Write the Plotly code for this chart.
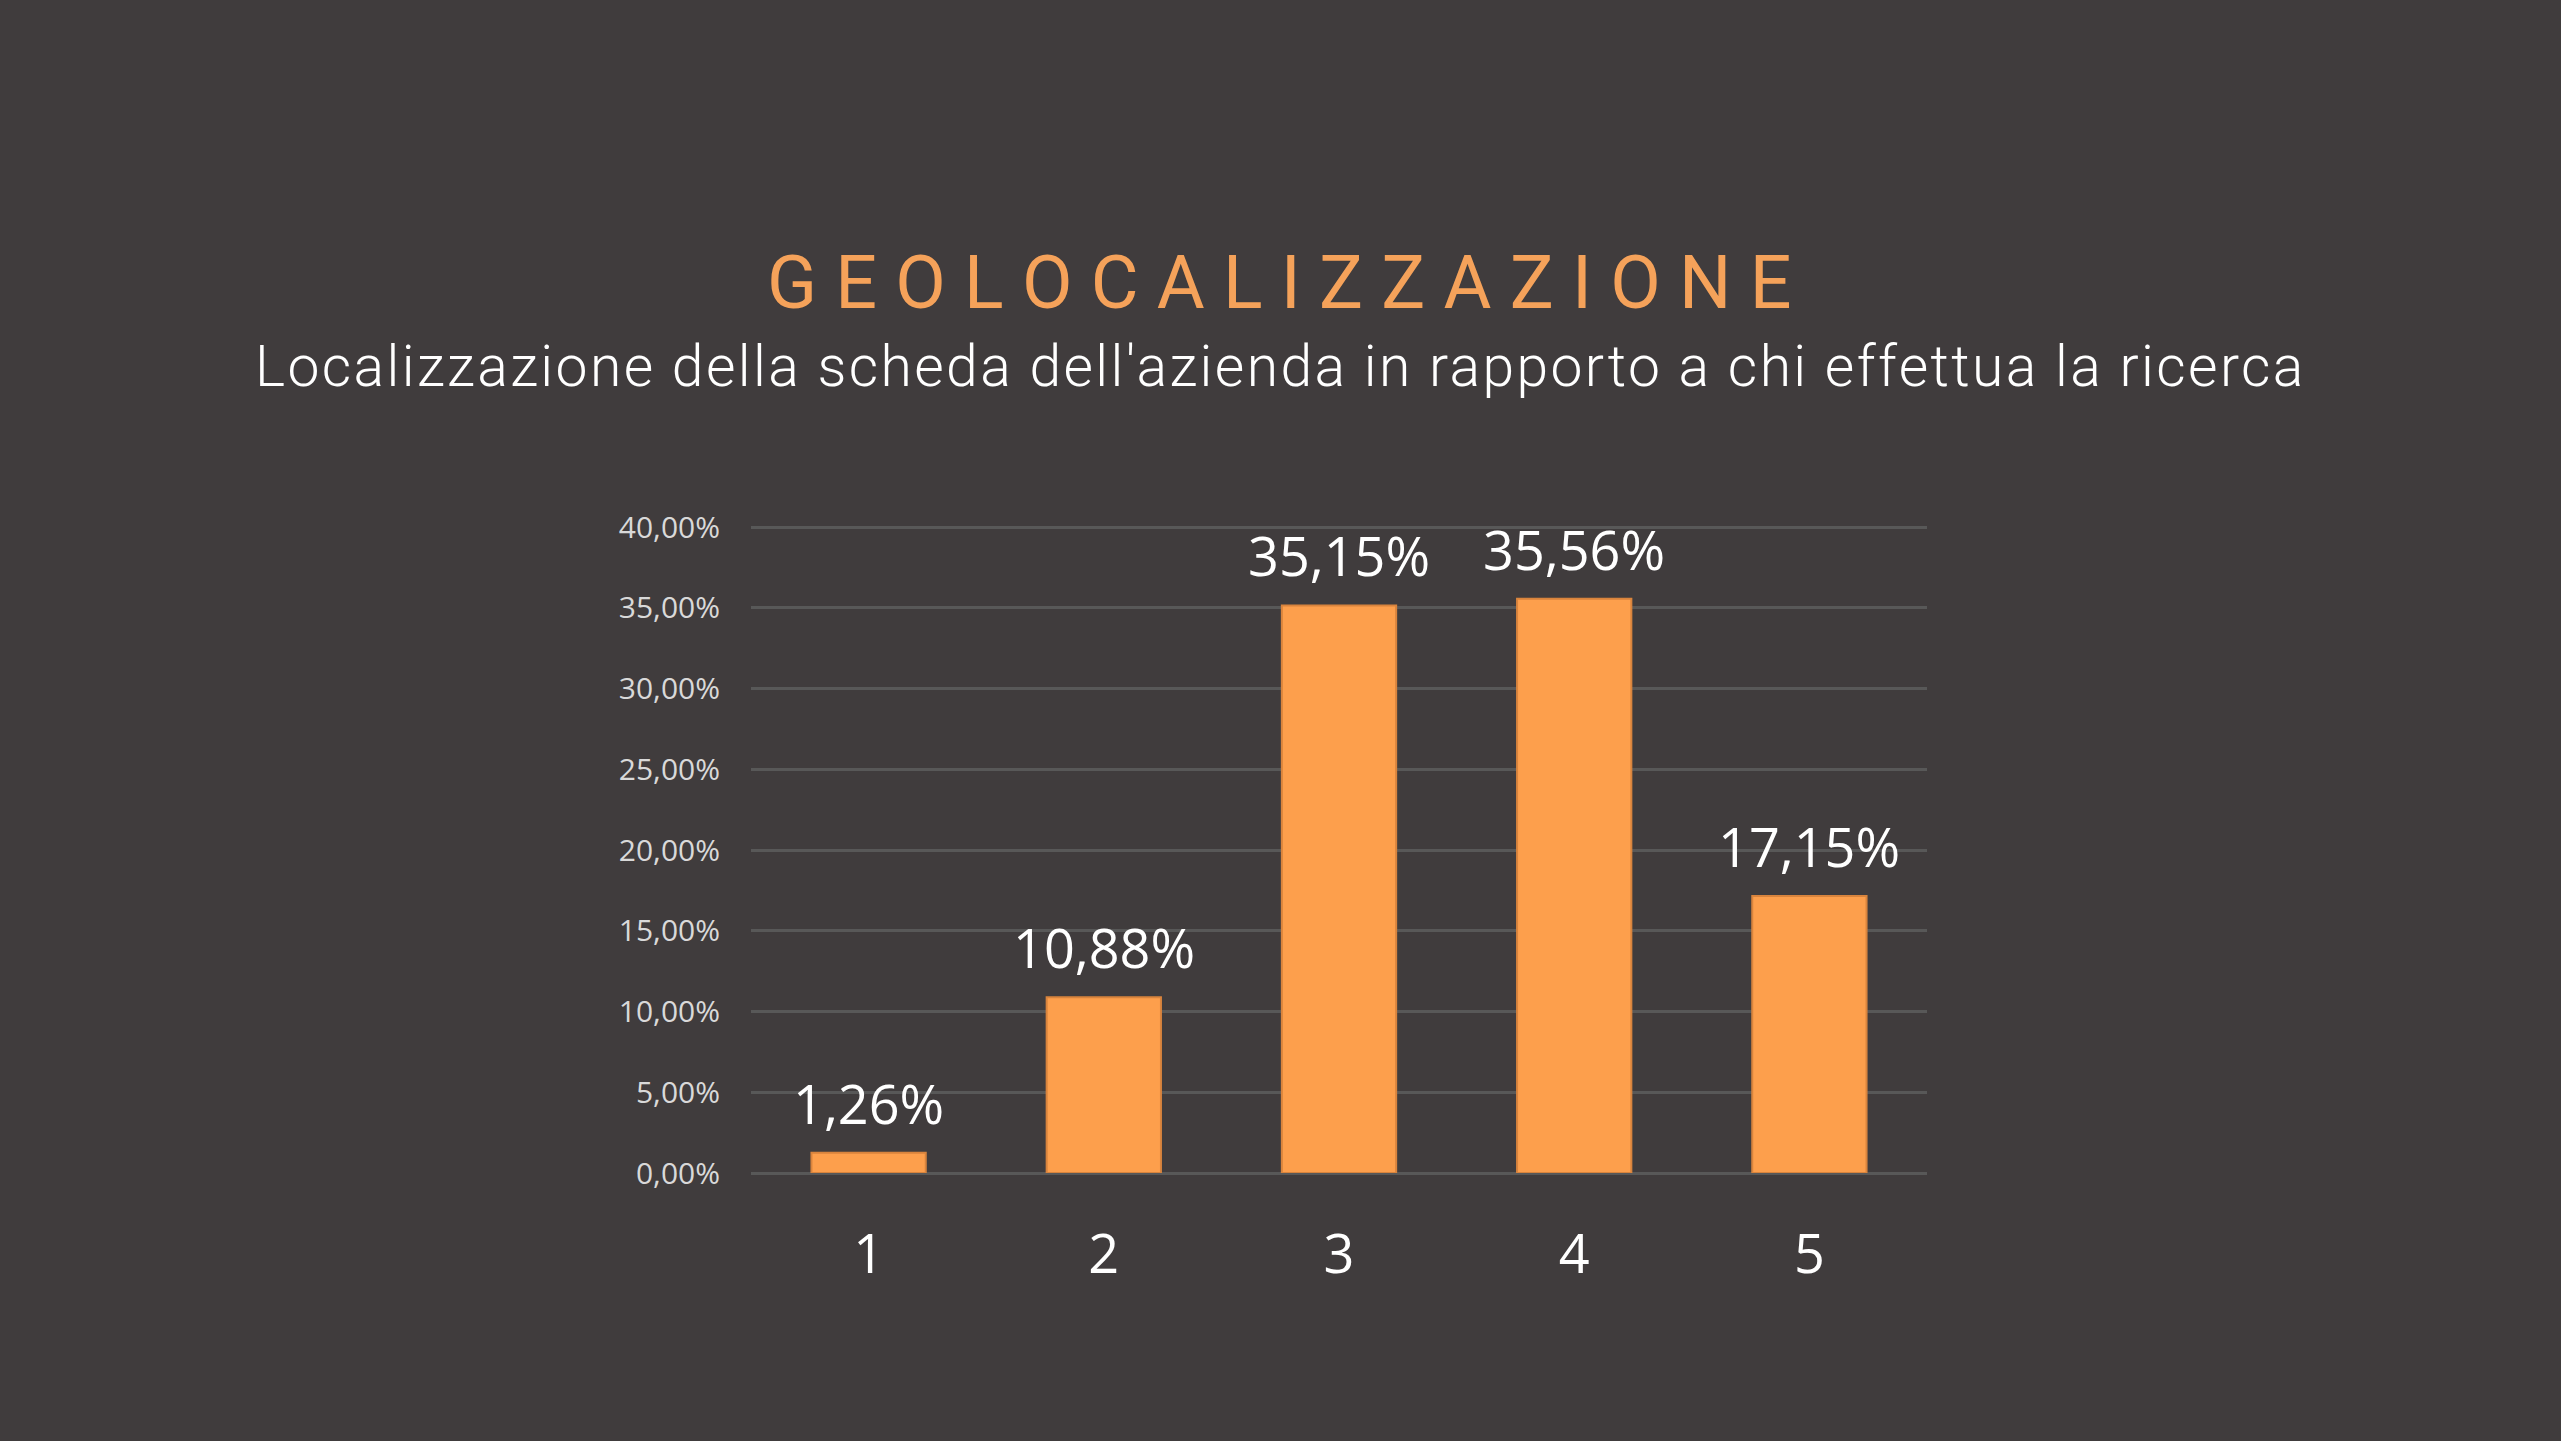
import plotly.graph_objects as go

categories = ["1", "2", "3", "4", "5"]
values = [1.26, 10.88, 35.15, 35.56, 17.15]
y_ticks = [0, 5, 10, 15, 20, 25, 30, 35, 40]
title_text = "GEOLOCALIZZAZIONE"
subtitle_text = "Localizzazione della scheda dell'azienda in rapporto a chi effettua la ricerca"

W, H = 2561, 1441
Y_TOP = 40.5
L, R, B = 751, W - 1927, H - 1173
T = 527 - round((Y_TOP - 40) * (1173 - 527) / 40)
plot_w, plot_h = W - L - R, H - T - B

def px_to_paper_x(px):
    return (px - L) / plot_w

def px_to_paper_y(py):
    return (H - B - py) / plot_h

def it(v):
    return f"{v:.2f}%".replace(".", ",")

BG = "#403C3D"
ORANGE = "#FD9F4C"

fig = go.Figure()
fig.add_trace(go.Bar(
    x=categories, y=values,
    width=0.486,
    marker=dict(color=ORANGE, line=dict(color="#D9843D", width=2)),
    hoverinfo="skip",
))

for i, v in enumerate(values):
    fig.add_annotation(
        x=i, y=v, xref="x", yref="y",
        text=it(v),
        showarrow=False, yanchor="bottom", yshift=11,
        font=dict(family="Open Sans", size=54, color="#FFFFFF"),
    )

fig.add_annotation(
    x=px_to_paper_x(1279), y=px_to_paper_y(283), xref="paper", yref="paper",
    text=" ".join(title_text), showarrow=False, xanchor="center", yanchor="middle",
    font=dict(family="Roboto", size=73.5, color="#F5A25A"),
)
fig.add_annotation(
    x=px_to_paper_x(1280), y=px_to_paper_y(367), xref="paper", yref="paper",
    text=f'<span style="letter-spacing:2.4px">{subtitle_text}</span>',
    showarrow=False, xanchor="center", yanchor="middle",
    font=dict(family="Roboto", size=57, color="#FFFFFF", weight=300),
)

fig.update_layout(
    width=W, height=H,
    margin=dict(l=L, r=R, t=T, b=B, pad=0),
    paper_bgcolor=BG, plot_bgcolor=BG,
    showlegend=False,
)
fig.update_xaxes(
    type="category", range=[-0.5, 4.5],
    showgrid=False, showline=False, zeroline=False, ticks="",
    tickfont=dict(family="Open Sans", size=54, color="#FFFFFF"),
    ticklabelstandoff=45,
)
fig.update_yaxes(
    range=[0, Y_TOP], tickvals=y_ticks, ticktext=[it(v) for v in y_ticks],
    showgrid=True, gridcolor="#585858", gridwidth=3,
    zeroline=True, zerolinecolor="#585858", zerolinewidth=3,
    showline=False, ticks="",
    tickfont=dict(family="Open Sans", size=30, color="#D9D9D9"),
    ticklabelstandoff=30,
)

fig.write_html("out.html", config={"displayModeBar": False},
               post_script="document.body.style.margin='0';document.body.style.overflow='hidden';")
